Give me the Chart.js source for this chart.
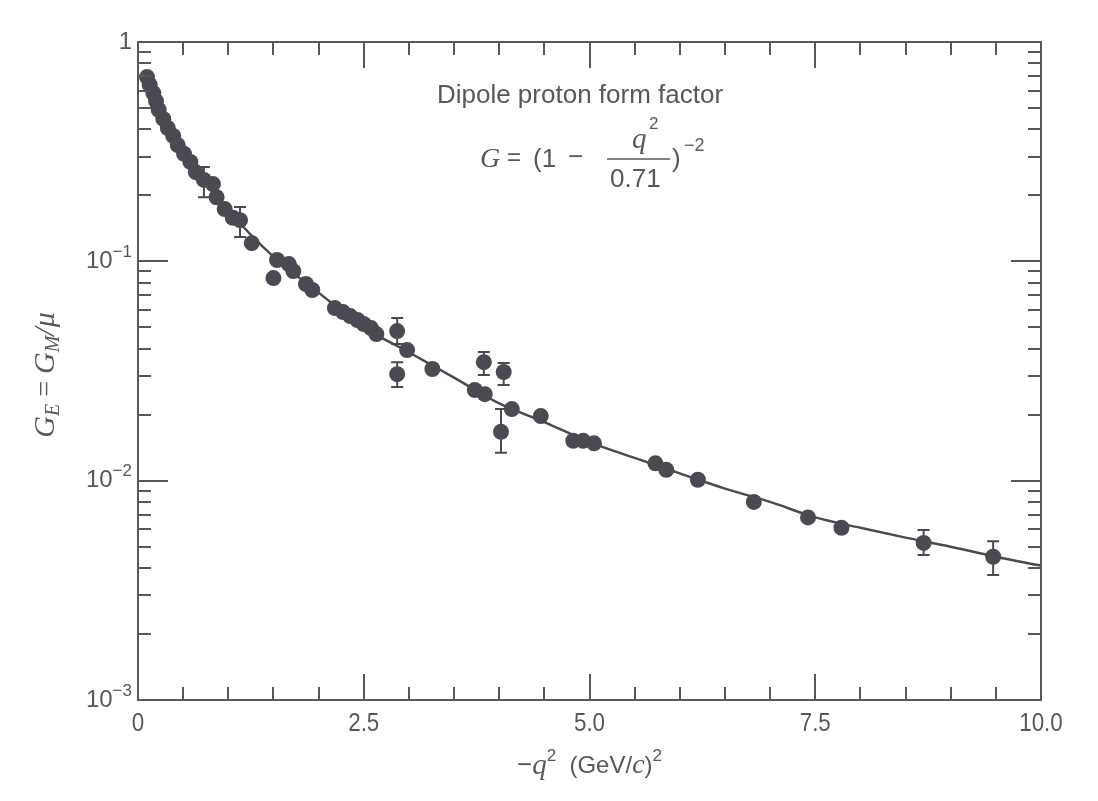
<!DOCTYPE html>
<html>
<head>
<meta charset="utf-8">
<script src="https://cdn.jsdelivr.net/npm/chart.js@4.4.1/dist/chart.umd.min.js"></script>
<style>
  html, body { margin: 0; padding: 0; background: #fff; }
  #wrap { width: 1098px; height: 801px; }
</style>
</head>
<body>
<div id="wrap"><canvas id="formFactor" width="1098" height="801"></canvas></div>
<script>
// measured points: -q^2 in (GeV/c)^2 and G_E = G_M/mu
const q2Points = [0.10, 0.13, 0.17, 0.20, 0.23, 0.28, 0.33, 0.39, 0.44, 0.51, 0.58, 0.64, 0.73, 0.83, 0.87,
  0.96, 1.05, 1.13, 1.26, 1.50, 1.54, 1.67, 1.72, 1.86, 1.93, 2.18, 2.27, 2.35, 2.43, 2.50, 2.58, 2.64,
  2.87, 2.87, 2.98, 3.26, 3.73, 3.84, 3.83, 4.05, 4.02, 4.14, 4.46, 4.82, 4.93, 5.05, 5.73, 5.85, 6.20,
  6.82, 7.42, 7.79, 8.70, 9.47];
const gPoints = [0.692, 0.637, 0.585, 0.538, 0.490, 0.446, 0.405, 0.373, 0.339, 0.309, 0.284, 0.255, 0.235, 0.225, 0.196,
  0.173, 0.158, 0.154, 0.121, 0.0839, 0.1014, 0.0972, 0.0903, 0.0788, 0.0740, 0.0612, 0.0587, 0.0563, 0.0540, 0.0518, 0.0496, 0.0466,
  0.0481, 0.0306, 0.0394, 0.0323, 0.0259, 0.0248, 0.0347, 0.0313, 0.0167, 0.0212, 0.0197, 0.0152, 0.0152, 0.0148, 0.0120, 0.0112, 0.0101,
  0.0080, 0.0068, 0.0061, 0.0052, 0.0045];

// the few points that carry error bars
const errQ2 = [0.73, 1.13, 2.87, 2.87, 3.83, 4.05, 4.02, 8.70, 9.47];
const errLow = [0.196, 0.129, 0.0420, 0.0267, 0.0303, 0.0273, 0.0134, 0.00458, 0.00371];
const errHigh = [0.269, 0.177, 0.0551, 0.0347, 0.0386, 0.0344, 0.0212, 0.00595, 0.0053];

// dipole curve
const curveQ2 = [0.1, 0.25, 0.5, 0.75, 1.0, 1.5, 2.0, 2.5, 3.0, 3.5, 4.0, 4.5, 5.0, 5.5, 6.0, 6.5, 7.0, 7.5, 8.0, 8.5, 9.0, 9.5, 10.0];
const curveG = [0.69, 0.49, 0.33, 0.232, 0.171, 0.105, 0.072, 0.050, 0.0385, 0.0295, 0.0225, 0.0185, 0.0150, 0.0127, 0.0108,
  0.0092, 0.0080, 0.0068, 0.0061, 0.0055, 0.0050, 0.0045, 0.0041];

// axis ticks and labels
const xTicks = [0.5, 1, 1.5, 2, 2.5, 3, 3.5, 4, 4.5, 5, 5.5, 6, 6.5, 7, 7.5, 8, 8.5, 9, 9.5];
const xMajor = [2.5, 5, 7.5];
const xLabelValues = [0, 2.5, 5, 7.5, 10];
const xLabels = ["0", "2.5", "5.0", "7.5", "10.0"];
const yDecades = [1, 0.1, 0.01, 0.001];
const yLabels = [["1", ""], ["10", "\u22121"], ["10", "\u22122"], ["10", "\u22123"]];

const INK = "#58585b";
const DOT = "#4a4a52";
const SANS = "'Liberation Sans', Arial, sans-serif";
const SERIF = "'Liberation Serif', 'DejaVu Serif', serif";

// draw a row of text pieces, each {t, f, dy}
function richText(ctx, parts, x, y, align) {
  let w = 0;
  parts.forEach(p => { ctx.font = p.f; w += ctx.measureText(p.t).width; });
  let cx = align === "center" ? x - w / 2 : align === "right" ? x - w : x;
  parts.forEach(p => {
    ctx.font = p.f;
    ctx.fillText(p.t, cx, y + (p.dy || 0));
    cx += ctx.measureText(p.t).width;
  });
}

const decor = {
  id: "decor",
  beforeDatasetsDraw(chart) {
    const ctx = chart.ctx, xs = chart.scales.x, ys = chart.scales.y;
    ctx.save();
    ctx.strokeStyle = DOT;
    ctx.lineWidth = 2;
    errQ2.forEach((q, i) => {
      const px = xs.getPixelForValue(q);
      const lo = ys.getPixelForValue(errLow[i]);
      const hi = ys.getPixelForValue(errHigh[i]);
      ctx.beginPath();
      ctx.moveTo(px, lo); ctx.lineTo(px, hi);
      ctx.moveTo(px - 6, lo); ctx.lineTo(px + 6, lo);
      ctx.moveTo(px - 6, hi); ctx.lineTo(px + 6, hi);
      ctx.stroke();
    });
    ctx.restore();
  },
  afterDraw(chart) {
    const ctx = chart.ctx, xs = chart.scales.x, ys = chart.scales.y;
    const { left, right, top, bottom } = chart.chartArea;
    ctx.save();
    ctx.strokeStyle = INK;
    ctx.lineWidth = 2;
    ctx.strokeRect(left, top, right - left, bottom - top);

    // tick marks, all pointing inwards
    ctx.beginPath();
    xTicks.forEach(v => {
      const px = Math.round(xs.getPixelForValue(v));
      const len = xMajor.includes(v) ? 26 : 13;
      ctx.moveTo(px, bottom); ctx.lineTo(px, bottom - len);
      ctx.moveTo(px, top); ctx.lineTo(px, top + len);
    });
    yDecades.forEach(d => {
      if (d < 1 && d > 0.001) {
        const py = Math.round(ys.getPixelForValue(d));
        ctx.moveTo(left, py); ctx.lineTo(left + 30, py);
        ctx.moveTo(right, py); ctx.lineTo(right - 30, py);
      }
      if (d < 1) {
        for (let m = 2; m <= 9; m++) {
          const py = Math.round(ys.getPixelForValue(m * d));
          ctx.moveTo(left, py); ctx.lineTo(left + 13, py);
          ctx.moveTo(right, py); ctx.lineTo(right - 13, py);
        }
      }
    });
    ctx.stroke();

    ctx.fillStyle = INK;
    ctx.textBaseline = "middle";

    // y tick labels
    yDecades.forEach((d, i) => {
      const py = ys.getPixelForValue(d);
      const [base, sup] = yLabels[i];
      richText(ctx, [
        { t: base, f: "24px " + SANS, dy: 0 },
        { t: sup, f: "17px " + SANS, dy: -9 }
      ], left - 6, py, "right");
    });

    // x tick labels, slightly condensed
    ctx.textAlign = "center";
    xLabelValues.forEach((v, i) => {
      const px = xs.getPixelForValue(v);
      ctx.save();
      ctx.translate(px, bottom + 24);
      ctx.scale(0.86, 1);
      ctx.font = "26px " + SANS;
      ctx.fillText(xLabels[i], 0, 0);
      ctx.restore();
    });
    ctx.textAlign = "left";

    // x title
    richText(ctx, [
      { t: "\u2212", f: "26px " + SANS },
      { t: "q", f: "italic 29px " + SERIF },
      { t: "2", f: "17px " + SANS, dy: -10 },
      { t: "  (GeV/", f: "24px " + SANS },
      { t: "c", f: "italic 28px " + SERIF },
      { t: ")", f: "24px " + SANS },
      { t: "2", f: "17px " + SANS, dy: -10 }
    ], (left + right) / 2, bottom + 66, "center");

    // y title, rotated
    ctx.save();
    ctx.translate(46, 375);
    ctx.rotate(-Math.PI / 2);
    richText(ctx, [
      { t: "G", f: "italic 30px " + SERIF },
      { t: "E", f: "italic 20px " + SERIF, dy: 8 },
      { t: " = ", f: "28px " + SERIF },
      { t: "G", f: "italic 30px " + SERIF },
      { t: "M", f: "italic 20px " + SERIF, dy: 8 },
      { t: "/\u03bc", f: "italic 30px " + SERIF }
    ], 0, 0, "center");
    ctx.restore();

    // annotation
    ctx.textAlign = "center";
    ctx.font = "26px " + SANS;
    ctx.fillText("Dipole proton form factor", 580, 96);
    ctx.textAlign = "left";
    ctx.font = "italic 28px " + SERIF;
    ctx.fillText("G", 480, 160);
    ctx.font = "24px " + SANS;
    ctx.fillText("=", 507, 158);
    ctx.font = "26px " + SANS;
    ctx.fillText("(1", 533, 160);
    ctx.fillText("\u2212", 568, 158);
    ctx.font = "italic 29px " + SERIF;
    ctx.fillText("q", 632, 140);
    ctx.font = "17px " + SANS;
    ctx.fillText("2", 649, 124);
    ctx.font = "26px " + SANS;
    ctx.fillText("0.71", 610, 180);
    ctx.fillText(")", 672, 160);
    ctx.font = "18px " + SANS;
    ctx.fillText("\u22122", 684, 146);
    ctx.beginPath();
    ctx.lineWidth = 1.5;
    ctx.moveTo(607, 159); ctx.lineTo(670, 159);
    ctx.stroke();
    ctx.restore();
  }
};

new Chart(document.getElementById("formFactor"), {
  type: "scatter",
  data: {
    datasets: [
      {
        label: "data",
        data: q2Points.map((q, i) => ({ x: q, y: gPoints[i] })),
        pointRadius: 8,
        pointBackgroundColor: DOT,
        pointBorderWidth: 0,
        showLine: false
      },
      {
        label: "dipole",
        type: "line",
        data: curveQ2.map((q, i) => ({ x: q, y: curveG[i] })),
        borderColor: "#4b4b4e",
        borderWidth: 2.5,
        pointRadius: 0,
        cubicInterpolationMode: "monotone",
        fill: false
      }
    ]
  },
  options: {
    responsive: false,
    animation: false,
    devicePixelRatio: 1,
    layout: { padding: { left: 138, top: 42, right: 57, bottom: 101 } },
    plugins: { legend: { display: false }, tooltip: { enabled: false } },
    scales: {
      x: { type: "linear", min: 0, max: 10, display: false },
      y: { type: "logarithmic", min: 0.001, max: 1, display: false }
    }
  },
  plugins: [decor]
});
</script>
</body>
</html>
